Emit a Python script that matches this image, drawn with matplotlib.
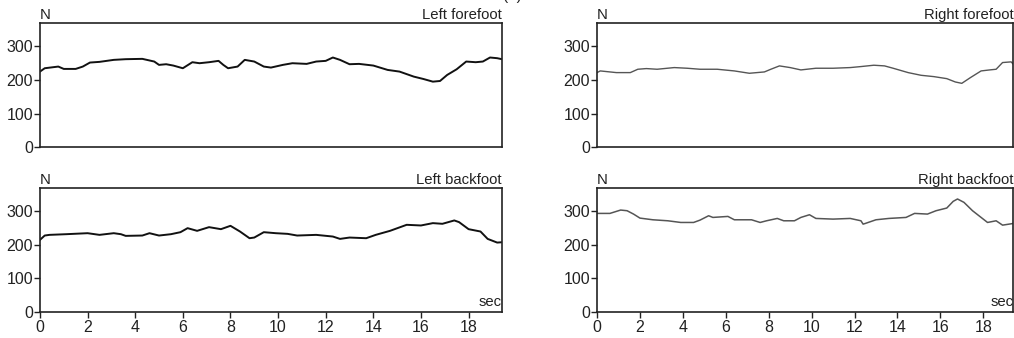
import matplotlib
matplotlib.use("Agg")
import matplotlib.pyplot as plt

# ---- data (time in sec, force in N) ----
lf_t = [0.0, 0.2, 0.77, 1.0, 1.5, 1.8, 2.1, 2.5, 3.1, 3.6, 4.3, 4.8, 5.0, 5.3, 5.6, 6.0,
        6.4, 6.7, 7.1, 7.5, 7.7, 7.9, 8.3, 8.6, 9.0, 9.4, 9.7, 10.2, 10.6, 11.2, 11.6,
        12.0, 12.3, 12.6, 13.0, 13.4, 14.0, 14.6, 15.1, 15.7, 16.1, 16.5, 16.8, 17.1,
        17.5, 17.9, 18.3, 18.6, 18.9, 19.2, 19.4]
lf_v = [225, 235, 240, 233, 233, 240, 252, 254, 260, 262, 263, 255, 245, 247, 243, 235,
        253, 250, 253, 257, 245, 235, 240, 260, 255, 240, 237, 245, 250, 248, 255,
        257, 267, 260, 247, 248, 243, 230, 225, 210, 203, 195, 197, 215,
        232, 255, 253, 255, 267, 265, 262]

lb_t = [0.0, 0.2, 0.4, 1.1, 2.0, 2.5, 3.1, 3.4, 3.6, 4.3, 4.6, 5.0, 5.5, 5.9, 6.2, 6.6,
        7.1, 7.6, 8.0, 8.4, 8.8, 9.0, 9.4, 9.9, 10.4, 10.8, 11.6, 12.3, 12.6, 13.0, 13.7,
        14.1, 14.7, 15.4, 16.0, 16.5, 16.9, 17.4, 17.6, 18.0, 18.5, 18.8, 19.2, 19.4]
lb_v = [215, 228, 230, 232, 235, 230, 235, 232, 227, 228, 235, 228, 232, 238, 250, 242,
        253, 247, 257, 240, 220, 222, 238, 235, 233, 228, 230, 225, 218, 222, 220,
        230, 242, 260, 258, 265, 263, 273, 268, 247, 240, 218, 207, 208]

rf_t = [0.0, 0.15, 0.9, 1.55, 1.9, 2.3, 2.8, 3.6, 4.2, 4.8, 5.6, 6.4, 7.1, 7.8, 8.1, 8.5,
        9.0, 9.5, 10.2, 11.0, 11.8, 12.3, 12.9, 13.4, 13.8, 14.5, 15.1, 15.7, 16.3, 16.7,
        17.0, 17.4, 17.9, 18.3, 18.6, 18.9, 19.3, 19.4]
rf_v = [222, 227, 222, 222, 232, 234, 232, 237, 235, 232, 232, 227, 220, 224, 232, 242,
        237, 230, 235, 235, 237, 240, 244, 242, 235, 222, 214, 210, 204, 194,
        190, 207, 227, 230, 232, 252, 254, 247]

rb_t = [0.0, 0.6, 1.1, 1.4, 1.7, 2.0, 2.6, 3.3, 3.9, 4.5, 4.8, 5.2, 5.4, 6.1, 6.4, 7.2,
        7.6, 7.9, 8.4, 8.7, 9.2, 9.5, 9.9, 10.2, 11.0, 11.8, 12.3, 12.4, 12.5, 13.0, 13.6,
        14.4, 14.8, 15.4, 15.8, 16.3, 16.6, 16.8, 17.1, 17.5, 18.2, 18.6, 18.9, 19.4]
rb_v = [294, 294, 304, 302, 292, 280, 275, 272, 267, 267, 274, 287, 282, 285, 275, 275,
        267, 272, 279, 272, 272, 282, 290, 279, 277, 279, 272, 262, 264, 275, 279,
        282, 294, 292, 302, 310, 330, 337, 327, 302, 267, 272, 259, 264]

titles = ["Left forefoot", "Right forefoot", "Left backfoot", "Right backfoot"]
series = [(lf_t, lf_v), (rf_t, rf_v), (lb_t, lb_v), (rb_t, rb_v)]
yticks = [0, 100, 200, 300]
xticks = [0, 2, 4, 6, 8, 10, 12, 14, 16, 18]

plt.rcParams['font.family'] = ['Liberation Sans', 'DejaVu Sans']

fig = plt.figure(figsize=(10.14, 3.38), dpi=100)
positions = [
    [0.0394, 0.565, 0.4556, 0.367],
    [0.5888, 0.565, 0.4105, 0.367],
    [0.0394, 0.077, 0.4556, 0.367],
    [0.5888, 0.077, 0.4105, 0.367],
]
colors = ["#111111", "#555555", "#111111", "#555555"]
lws = [1.4, 1.0, 1.4, 1.1]

for i, (pos, (t, v), title) in enumerate(zip(positions, series, titles)):
    ax = fig.add_axes(pos)
    ax.plot(t, v, color=colors[i], lw=lws[i], solid_joinstyle='round')
    ax.set_xlim(0, 19.4)
    ax.set_ylim(0, 370)
    ax.set_yticks(yticks)
    ax.set_xticks(xticks)
    for sp in ax.spines.values():
        sp.set_linewidth(1.2)
        sp.set_color("#222222")
    ax.tick_params(axis='y', direction='out', length=4, width=1, labelsize=11.5, pad=1,
                   colors="#222222")
    if i >= 2:
        ax.tick_params(axis='x', direction='out', length=4, width=1, labelsize=11.5, pad=2,
                       colors="#222222")
        ax.text(1.0, 0.02, "sec", transform=ax.transAxes, ha='right', va='bottom',
                fontsize=10.7, color="#222222")
    else:
        ax.tick_params(axis='x', length=0, labelbottom=False)
    ax.text(0.0, 1.005, "N", transform=ax.transAxes, ha='left', va='bottom',
            fontsize=10.7, color="#222222")
    ax.text(1.0, 1.005, title, transform=ax.transAxes, ha='right', va='bottom',
            fontsize=10.7, color="#222222")

fig.text(0.505, 1.012, "(b)", ha='center', va='center', fontsize=11, color="#222222")

fig.savefig("out.png", dpi=100)
